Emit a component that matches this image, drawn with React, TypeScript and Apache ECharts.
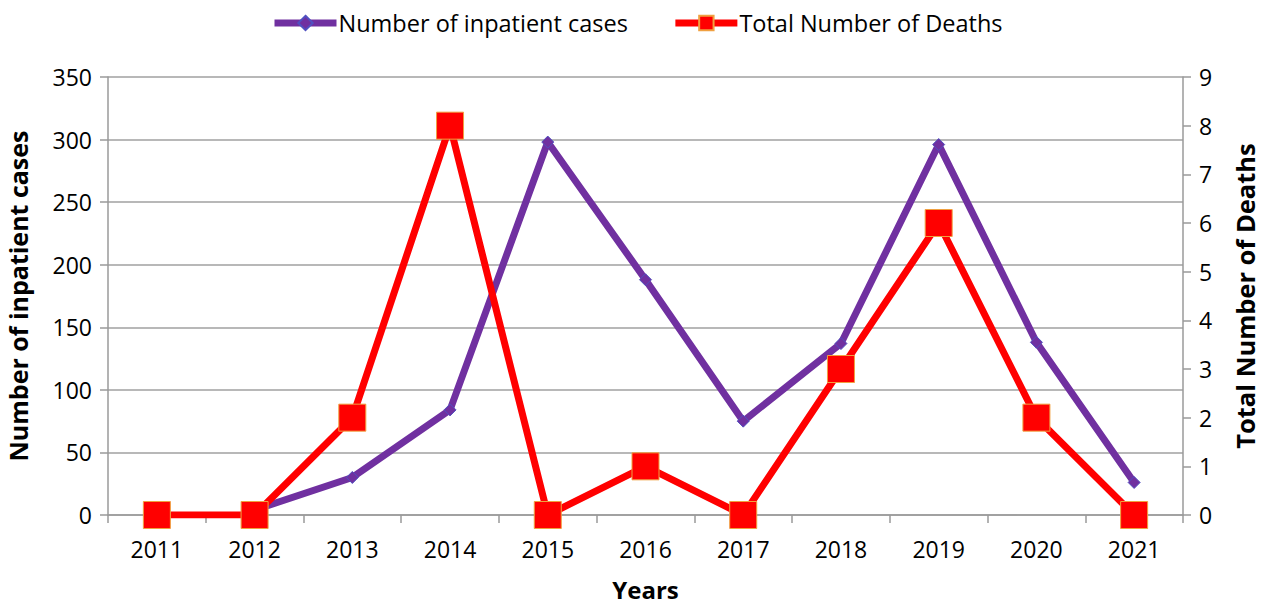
import React, { useEffect, useRef } from "react";
import * as echarts from "echarts";

const years = ["2011", "2012", "2013", "2014", "2015", "2016", "2017", "2018", "2019", "2020", "2021"];
const inpatientCases = [null, 4, 30, 84, 298, 188, 75, 137, 296, 138, 26];
const totalDeaths = [0, 0, 2, 8, 0, 1, 0, 3, 6, 2, 0];

const FONT = "'Open Sans', 'Liberation Sans', sans-serif";

export default function App() {
  const ref = useRef<HTMLDivElement>(null);
  useEffect(() => {
    const chart = echarts.init(ref.current!, null, { renderer: "svg" });
    chart.setOption({
      animation: false,
      textStyle: { fontFamily: FONT },
      legend: {
        top: 6,
        left: 266,
        itemWidth: 62,
        itemHeight: 18,
        itemGap: 44,
        textStyle: { fontSize: 23.5, color: "#000", fontFamily: FONT, padding: [0, 0, 0, -3] },
        data: [
          { name: "Number of inpatient cases", lineStyle: { width: 7, color: "#7030a0" } },
          { name: "Total Number of Deaths", lineStyle: { width: 7, color: "#ff0000" } },
        ],
      },
      grid: { left: 108, right: 81, top: 77, bottom: 91, containLabel: false, outerBoundsMode: "none" },
      xAxis: {
        type: "category",
        data: years,
        boundaryGap: true,
        name: "Years",
        nameLocation: "middle",
        nameGap: 74,
        nameTextStyle: { fontSize: 24, fontWeight: "bold", color: "#000", fontFamily: FONT, verticalAlign: "middle" },
        axisLine: { lineStyle: { color: "#9a9a9a", width: 1.5 } },
        axisTick: { show: true, alignWithLabel: false, length: 8, lineStyle: { color: "#9a9a9a", width: 1.5 } },
        axisLabel: { fontSize: 23, color: "#000", margin: 22, fontFamily: FONT },
      },
      yAxis: [
        {
          type: "value",
          min: 0,
          max: 350,
          interval: 50,
          name: "Number of inpatient cases",
          nameLocation: "middle",
          nameGap: 90,
          nameTextStyle: { fontSize: 25, fontWeight: "bold", color: "#000", fontFamily: FONT, verticalAlign: "middle" },
          axisLine: { show: true, lineStyle: { color: "#9a9a9a", width: 1.5 } },
          axisTick: { show: true, length: 8, lineStyle: { color: "#9a9a9a", width: 1.5 } },
          axisLabel: { fontSize: 23, color: "#000", margin: 16, fontFamily: FONT },
          splitLine: { show: true, lineStyle: { color: "#a0a0a0", width: 1.5 } },
        },
        {
          type: "value",
          min: 0,
          max: 9,
          interval: 1,
          position: "right",
          name: "Total Number of Deaths",
          nameLocation: "middle",
          nameGap: 62,
          nameRotate: 90,
          nameTextStyle: { fontSize: 25.5, fontWeight: "bold", color: "#000", fontFamily: FONT, verticalAlign: "middle" },
          axisLine: { show: true, lineStyle: { color: "#9a9a9a", width: 1.5 } },
          axisTick: { show: true, length: 8, lineStyle: { color: "#9a9a9a", width: 1.5 } },
          axisLabel: { fontSize: 23, color: "#000", margin: 16, fontFamily: FONT },
          splitLine: { show: false },
        },
      ],
      series: [
        {
          name: "Number of inpatient cases",
          type: "line",
          yAxisIndex: 0,
          data: inpatientCases,
          symbol: "diamond",
          symbolSize: 12,
          connectNulls: false,
          lineStyle: { color: "#7030a0", width: 7 },
          itemStyle: { color: "#7030a0", borderColor: "#5050c0", borderWidth: 1 },
          z: 2,
        },
        {
          name: "Total Number of Deaths",
          type: "line",
          yAxisIndex: 1,
          data: totalDeaths,
          symbol: "rect",
          symbolSize: 27,
          lineStyle: { color: "#ff0000", width: 7 },
          itemStyle: { color: "#ff0000", borderColor: "#f0a040", borderWidth: 1 },
          z: 3,
        },
      ],
    });
    return () => chart.dispose();
  }, []);
  return <div ref={ref} style={{ width: 1264, height: 606, marginLeft: -8, marginTop: -8 }} />;
}
